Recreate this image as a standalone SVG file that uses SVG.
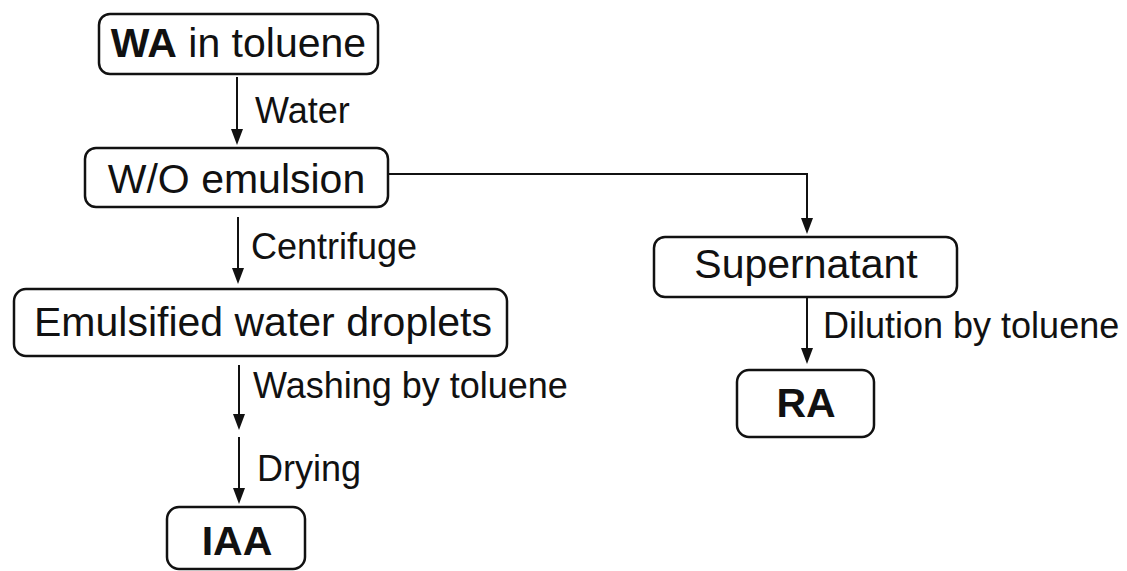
<svg xmlns="http://www.w3.org/2000/svg" width="1127" height="571" viewBox="0 0 1127 571">
<style>
.box{fill:#fff;stroke:#111;stroke-width:2.5}
.t{font-family:"Liberation Sans",Arial,sans-serif;font-size:41px;fill:#111;text-anchor:middle}
.b{font-weight:bold}
.lbl{font-family:"Liberation Sans",Arial,sans-serif;font-size:36px;fill:#111}
.c{fill:none;stroke:#111;stroke-width:2}
.ah{fill:#111}
</style>
<rect width="1127" height="571" fill="#fff"/>
<g id="connectors">
<line class="c" x1="237" y1="77" x2="237" y2="132"/>
<line class="c" x1="238" y1="217" x2="238" y2="270"/>
<line class="c" x1="239" y1="365" x2="239" y2="416"/>
<line class="c" x1="239" y1="437" x2="239" y2="490"/>
<polyline class="c" points="388,174 807,174 807,220"/>
<line class="c" x1="807" y1="297" x2="807" y2="350"/>
<path class="ah" d="M231,129 L243,129 L237,145 Z"/>
<path class="ah" d="M232,268 L244,268 L238,284 Z"/>
<path class="ah" d="M233,414 L245,414 L239,430 Z"/>
<path class="ah" d="M233,488 L245,488 L239,504 Z"/>
<path class="ah" d="M801,218 L813,218 L807,234 Z"/>
<path class="ah" d="M801,348 L813,348 L807,364 Z"/>
<text class="lbl" x="255" y="123">Water</text>
<text class="lbl" x="251" y="259">Centrifuge</text>
<text class="lbl" x="253" y="398">Washing by toluene</text>
<text class="lbl" x="257" y="481">Drying</text>
<text class="lbl" x="823" y="338">Dilution by toluene</text>
</g>
<g id="wa">
<rect class="box" x="99" y="14" width="279" height="60" rx="11"/>
<text class="t" x="238.5" y="57"><tspan class="b">WA</tspan> in toluene</text>
</g>
<g id="wo">
<rect class="box" x="85" y="148" width="303" height="59" rx="11"/>
<text class="t" x="236.5" y="193">W/O emulsion</text>
</g>
<g id="emulsified">
<rect class="box" x="14" y="289" width="493" height="67" rx="12"/>
<text class="t" x="263" y="336">Emulsified water droplets</text>
</g>
<g id="iaa">
<rect class="box" x="167" y="507" width="138" height="62" rx="12"/>
<text class="t b" x="237" y="555">IAA</text>
</g>
<g id="supernatant">
<rect class="box" x="654" y="237" width="303" height="60" rx="11"/>
<text class="t" x="806" y="278">Supernatant</text>
</g>
<g id="ra">
<rect class="box" x="737" y="370" width="137" height="67" rx="12"/>
<text class="t b" x="806" y="417">RA</text>
</g>
</svg>
